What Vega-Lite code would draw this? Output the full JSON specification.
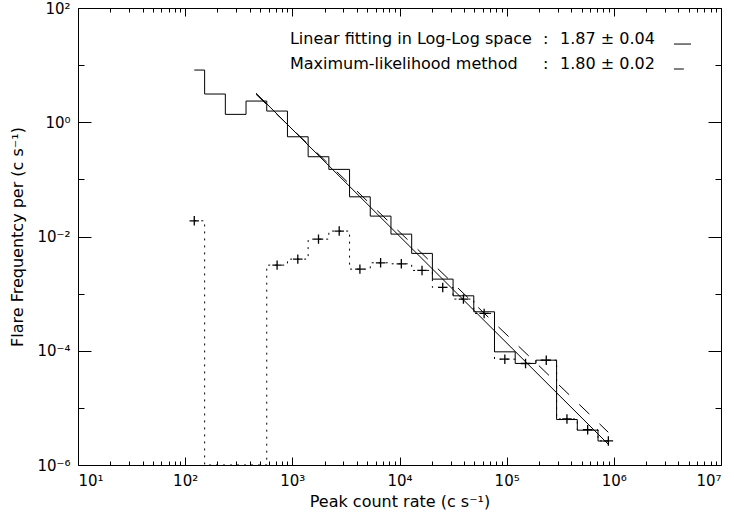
{
  "$schema": "https://vega.github.io/schema/vega-lite/v6.json",
  "width": 643,
  "height": 457,
  "autosize": {"type": "none"},
  "padding": {"left": 78, "top": 8, "right": 13, "bottom": 51},
  "background": "white",
  "config": {
    "view": {"stroke": "black", "strokeWidth": 1},
    "font": "DejaVu Sans",
    "axis": {
      "grid": false,
      "domain": false,
      "tickColor": "black",
      "tickWidth": 1,
      "labelFont": "DejaVu Sans",
      "labelFontSize": 15,
      "labelColor": "black",
      "titleFont": "DejaVu Sans",
      "titleFontSize": 16,
      "titleFontWeight": "normal",
      "titleColor": "black"
    }
  },
  "datasets": {
    "hist": [
      {"x": 121.6, "solid": 8.20, "obs": 0.01884},
      {"x": 189.8, "solid": 3.12, "obs": 0.000001},
      {"x": 296.1, "solid": 1.374, "obs": 0.000001},
      {"x": 461.9, "solid": 2.35, "obs": 0.000001},
      {"x": 720.8, "solid": 1.57, "obs": 0.003155},
      {"x": 1124.6, "solid": 0.557, "obs": 0.004018},
      {"x": 1754.6, "solid": 0.249, "obs": 0.008995},
      {"x": 2737.6, "solid": 0.1496, "obs": 0.01245},
      {"x": 4271.1, "solid": 0.0495, "obs": 0.002685},
      {"x": 6663.4, "solid": 0.02275, "obs": 0.003467},
      {"x": 10399, "solid": 0.01101, "obs": 0.003327},
      {"x": 16226, "solid": 0.00506, "obs": 0.002547},
      {"x": 25318, "solid": 0.001795, "obs": 0.001285},
      {"x": 39501, "solid": 0.000916, "obs": 0.000802},
      {"x": 61631, "solid": 0.000481, "obs": 0.0004498},
      {"x": 96161, "solid": 0.0000957, "obs": 0.0000713},
      {"x": 150035, "solid": 0.0000600, "obs": 0.0000598},
      {"x": 234090, "solid": 0.0000684, "obs": 0.0000684},
      {"x": 365240, "solid": 0.00000625, "obs": 0.00000640},
      {"x": 569860, "solid": 0.00000407, "obs": 0.00000415},
      {"x": 889150, "solid": 0.00000263, "obs": 0.00000264}
    ],
    "fit": [
      {"x": 458.1, "lin": 3.236, "ml": 3.09},
      {"x": 887156, "lin": 0.00000231, "ml": 0.000003745}
    ],
    "legendText": [
      {"x": 950, "y": 23.4, "t": "Linear fitting in Log-Log space"},
      {"x": 950, "y": 8.55, "t": "Maximum-likelihood method"},
      {"x": 218000, "y": 23.4, "t": ":"},
      {"x": 218000, "y": 8.55, "t": ":"},
      {"x": 315000, "y": 23.4, "t": "1.87 ± 0.04"},
      {"x": 315000, "y": 8.55, "t": "1.80 ± 0.02"}
    ],
    "legendLines": [
      {"x": 3640000, "x2": 5250000, "y": 23.4},
      {"x": 3640000, "x2": 4500000, "y": 8.55}
    ]
  },
  "resolve": {"axis": {"x": "independent", "y": "independent"}},
  "layer": [
    {
      "data": {"name": "hist"},
      "mark": {"type": "line", "interpolate": "step", "color": "black", "strokeWidth": 1},
      "encoding": {
        "x": {
          "field": "x", "type": "quantitative",
          "scale": {"type": "log", "domain": [10, 10000000], "nice": false},
          "axis": {
            "orient": "bottom",
            "values": [10, 100, 1000, 10000, 100000, 1000000, 10000000],
            "tickSize": -8,
            "labelPadding": 16,
            "labelExpr": "'10' + ['⁰','¹','²','³','⁴','⁵','⁶','⁷'][round(log(datum.value)/LN10)]",
            "title": "Peak count rate (c s⁻¹)",
            "titlePadding": 5
          }
        },
        "y": {
          "field": "solid", "type": "quantitative",
          "scale": {"type": "log", "domain": [0.000001, 100], "nice": false},
          "axis": {
            "orient": "left",
            "values": [100, 1, 0.01, 0.0001, 0.000001],
            "tickSize": -13,
            "labelPadding": 21,
            "labelExpr": "'10' + (datum.value < 1 ? '⁻' : '') + ['⁰','¹','²','³','⁴','⁵','⁶','⁷'][abs(round(log(datum.value)/LN10))]",
            "title": "Flare Frequentcy per (c s⁻¹)",
            "titlePadding": 11
          }
        }
      }
    },
    {
      "data": {"name": "hist"},
      "mark": {"type": "line", "interpolate": "step", "color": "black", "strokeWidth": 1, "strokeDash": [2, 5]},
      "encoding": {
        "x": {
          "field": "x", "type": "quantitative",
          "scale": {"type": "log", "domain": [10, 10000000], "nice": false},
          "axis": {"orient": "top", "values": [10, 100, 1000, 10000, 100000, 1000000, 10000000], "tickSize": -8, "labels": false, "title": null}
        },
        "y": {
          "field": "obs", "type": "quantitative",
          "scale": {"type": "log", "domain": [0.000001, 100], "nice": false},
          "axis": {"orient": "right", "values": [100, 1, 0.01, 0.0001, 0.000001], "tickSize": -13, "labels": false, "title": null}
        }
      }
    },
    {
      "data": {"name": "hist"},
      "transform": [{"filter": "datum.obs > 0.000002"}],
      "mark": {"type": "point", "shape": "M-1,0H1M0,-1V1", "filled": false, "stroke": "black", "strokeWidth": 1.3, "size": 90, "opacity": 1},
      "encoding": {
        "x": {
          "field": "x", "type": "quantitative",
          "scale": {"type": "log", "domain": [10, 10000000], "nice": false},
          "axis": {"orient": "bottom", "values": [20,30,40,50,60,70,80,90,200,300,400,500,600,700,800,900,2000,3000,4000,5000,6000,7000,8000,9000,20000,30000,40000,50000,60000,70000,80000,90000,200000,300000,400000,500000,600000,700000,800000,900000,2000000,3000000,4000000,5000000,6000000,7000000,8000000,9000000], "tickSize": -4, "labels": false, "title": null}
        },
        "y": {
          "field": "obs", "type": "quantitative",
          "scale": {"type": "log", "domain": [0.000001, 100], "nice": false},
          "axis": {"orient": "left", "values": [10, 0.1, 0.001, 0.00001], "tickSize": -6, "labels": false, "title": null}
        }
      }
    },
    {
      "data": {"name": "fit"},
      "mark": {"type": "line", "color": "black", "strokeWidth": 1},
      "encoding": {
        "x": {
          "field": "x", "type": "quantitative",
          "scale": {"type": "log", "domain": [10, 10000000], "nice": false},
          "axis": {"orient": "top", "values": [20,30,40,50,60,70,80,90,200,300,400,500,600,700,800,900,2000,3000,4000,5000,6000,7000,8000,9000,20000,30000,40000,50000,60000,70000,80000,90000,200000,300000,400000,500000,600000,700000,800000,900000,2000000,3000000,4000000,5000000,6000000,7000000,8000000,9000000], "tickSize": -4, "labels": false, "title": null}
        },
        "y": {
          "field": "lin", "type": "quantitative",
          "scale": {"type": "log", "domain": [0.000001, 100], "nice": false},
          "axis": {"orient": "right", "values": [10, 0.1, 0.001, 0.00001], "tickSize": -6, "labels": false, "title": null}
        }
      }
    },
    {
      "data": {"name": "fit"},
      "mark": {"type": "line", "color": "black", "strokeWidth": 1, "strokeDash": [14, 14]},
      "encoding": {
        "x": {"field": "x", "type": "quantitative", "scale": {"type": "log", "domain": [10, 10000000], "nice": false}, "axis": null},
        "y": {"field": "ml", "type": "quantitative", "scale": {"type": "log", "domain": [0.000001, 100], "nice": false}, "axis": null}
      }
    },
    {
      "data": {"name": "legendText"},
      "mark": {"type": "text", "align": "left", "baseline": "alphabetic", "font": "DejaVu Sans", "fontSize": 16, "color": "black"},
      "encoding": {
        "x": {"field": "x", "type": "quantitative", "scale": {"type": "log", "domain": [10, 10000000], "nice": false}, "axis": null},
        "y": {"field": "y", "type": "quantitative", "scale": {"type": "log", "domain": [0.000001, 100], "nice": false}, "axis": null},
        "text": {"field": "t", "type": "nominal"}
      }
    },
    {
      "data": {"name": "legendLines"},
      "mark": {"type": "rule", "color": "black", "strokeWidth": 1},
      "encoding": {
        "x": {"field": "x", "type": "quantitative", "scale": {"type": "log", "domain": [10, 10000000], "nice": false}, "axis": null},
        "x2": {"field": "x2"},
        "y": {"field": "y", "type": "quantitative", "scale": {"type": "log", "domain": [0.000001, 100], "nice": false}, "axis": null}
      }
    }
  ]
}
